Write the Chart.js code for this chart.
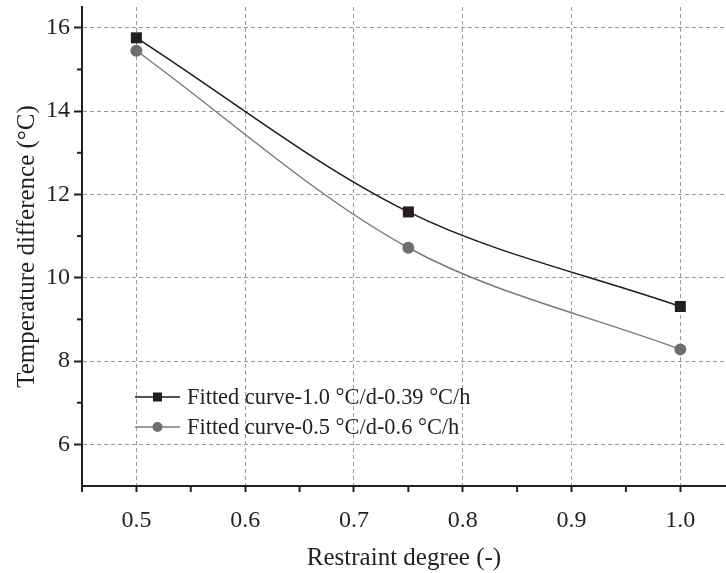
<!DOCTYPE html>
<html>
<head>
<meta charset="utf-8">
<script src="https://cdn.jsdelivr.net/npm/chart.js@4"></script>
<style>
  html, body { margin: 0; padding: 0; background: #fff; }
  #wrap { width: 726px; height: 573px; }
</style>
</head>
<body>
<div id="wrap"><canvas id="miGrafico"></canvas></div>
<script>
// datos
const restraint = [0.5, 0.75, 1.0];
const curveA = [15.76, 11.58, 9.31]; // 1.0 °C/d-0.39 °C/h
const curveB = [15.45, 10.72, 8.28]; // 0.5 °C/d-0.6 °C/h
const labelA = 'Fitted curve-1.0 °C/d-0.39 °C/h';
const labelB = 'Fitted curve-0.5 °C/d-0.6 °C/h';
const xTicks = [0.5, 0.6, 0.7, 0.8, 0.9, 1.0];
const yTicks = [6, 8, 10, 12, 14, 16];
const xRange = [0.45, 1.042];
const yRange = [5, 16.5];

const serif = '"Liberation Serif", "Times New Roman", serif';
const colorA = '#231f20';
const colorB = '#6d6e71';

// leyenda dentro del area del grafico (linea - marcador - linea)
const insideLegend = {
    id: 'insideLegend',
    afterDraw(chart) {
        const c = chart.ctx;
        const left = chart.chartArea.left;
        const rows = [
            { y: 397, color: colorA, line: '#1a1a1a', style: 'rect', text: labelA },
            { y: 427, color: colorB, line: '#7a7a7a', style: 'circle', text: labelB },
        ];
        c.save();
        rows.forEach(r => {
            c.strokeStyle = r.line;
            c.lineWidth = 1.5;
            c.beginPath();
            c.moveTo(left + 53, r.y);
            c.lineTo(left + 98, r.y);
            c.stroke();
            c.fillStyle = r.color;
            if (r.style === 'rect') {
                c.fillRect(left + 71, r.y - 4.5, 9, 9);
            } else {
                c.beginPath();
                c.arc(left + 75.5, r.y, 5, 0, Math.PI * 2);
                c.fill();
            }
            c.fillStyle = '#231f20';
            c.font = '22.4px ' + serif;
            c.textBaseline = 'middle';
            c.fillText(r.text, left + 105, r.y + 1);
        });
        c.restore();
    }
};

// ticks menores
const minorTicks = {
    id: 'minorTicks',
    afterDraw(chart) {
        const c = chart.ctx;
        const xs = chart.scales.x, ys = chart.scales.y;
        c.save();
        c.strokeStyle = '#231f20';
        c.lineWidth = 2;
        [0.45, 0.55, 0.65, 0.75, 0.85, 0.95].forEach(v => {
            const px = xs.getPixelForValue(v);
            c.beginPath();
            c.moveTo(px, ys.bottom);
            c.lineTo(px, ys.bottom + 6);
            c.stroke();
        });
        [7, 9, 11, 13, 15].forEach(v => {
            const py = ys.getPixelForValue(v);
            c.beginPath();
            c.moveTo(xs.left, py);
            c.lineTo(xs.left - 5, py);
            c.stroke();
        });
        c.restore();
    }
};

// ticks en los bordes sin etiqueta
const withEdges = (ticks, range) => [range[0], ...ticks, range[1]].map(v => ({ value: v }));
const edgeLabel = (range, fmt) => v => (v === range[0] || v === range[1]) ? null : fmt(v);

const ctx = document.getElementById('miGrafico').getContext('2d');
new Chart(ctx, {
    type: 'line',
    data: {
        datasets: [{
            label: labelA,
            data: restraint.map((x, i) => ({ x: x, y: curveA[i] })),
            borderColor: '#1a1a1a',
            backgroundColor: colorA,
            borderWidth: 1.5,
            pointStyle: 'rect',
            pointRadius: 7.8,
            pointBorderWidth: 0,
            tension: 0.33,
        }, {
            label: labelB,
            data: restraint.map((x, i) => ({ x: x, y: curveB[i] })),
            borderColor: '#7a7a7a',
            backgroundColor: colorB,
            borderWidth: 1.5,
            pointStyle: 'circle',
            pointRadius: 6,
            pointBorderWidth: 0,
            tension: 0.33,
        }]
    },
    options: {
        responsive: true,
        maintainAspectRatio: false,
        animation: false,
        layout: { autoPadding: false, padding: { top: 7, right: 0, left: 0, bottom: 0 } },
        plugins: {
            legend: { display: false },
            tooltip: { enabled: false },
        },
        scales: {
            x: {
                type: 'linear',
                min: xRange[0],
                max: xRange[1],
                afterBuildTicks: s => { s.ticks = withEdges(xTicks, xRange); },
                afterFit: s => { s.height = 87; s.paddingLeft = 0; s.paddingRight = 0; },
                ticks: {
                    color: '#231f20',
                    font: { family: serif, size: 24 },
                    padding: 14,
                    maxRotation: 0,
                    autoSkip: false,
                    callback: edgeLabel(xRange, v => v.toFixed(1)),
                },
                grid: {
                    color: '#9a9a9a',
                    lineWidth: 1,
                    tickColor: '#231f20',
                    tickLength: 6,
                    tickWidth: 2,
                },
                border: { color: '#231f20', width: 2, dash: [4, 3] },
                title: {
                    display: true,
                    text: 'Restraint degree (-)',
                    color: '#231f20',
                    font: { family: serif, size: 25 },
                    padding: { top: 4, bottom: 0 },
                },
            },
            y: {
                min: yRange[0],
                max: yRange[1],
                afterBuildTicks: s => { s.ticks = withEdges(yTicks, yRange); },
                afterFit: s => { s.width = 82; s.paddingTop = 0; s.paddingBottom = 0; },
                ticks: {
                    color: '#231f20',
                    font: { family: serif, size: 24 },
                    padding: 4,
                    autoSkip: false,
                    callback: edgeLabel(yRange, v => String(v)),
                },
                grid: {
                    color: '#9a9a9a',
                    lineWidth: 1,
                    tickColor: '#231f20',
                    tickLength: 8,
                    tickWidth: 2,
                },
                border: { color: '#231f20', width: 2, dash: [4, 3] },
                title: {
                    display: true,
                    text: 'Temperature difference (°C)',
                    color: '#231f20',
                    font: { family: serif, size: 25 },
                    padding: { top: 12, bottom: 0 },
                },
            },
        },
    },
    plugins: [insideLegend, minorTicks],
});
</script>
</body>
</html>
